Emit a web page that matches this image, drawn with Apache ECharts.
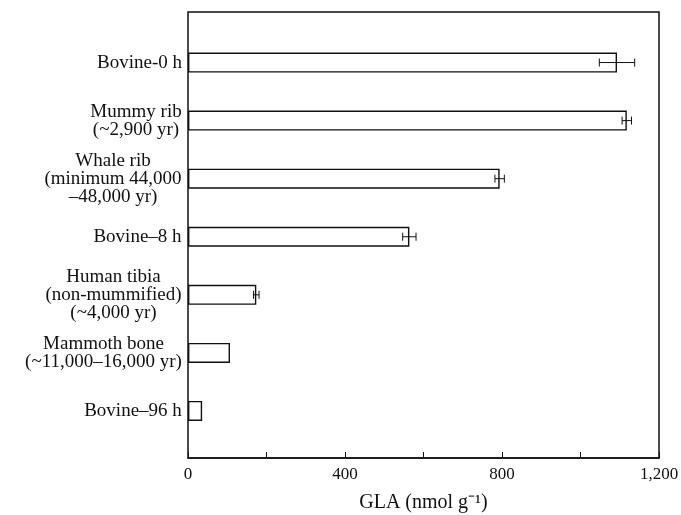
<!DOCTYPE html>
<html><head><meta charset="utf-8">
<script src="https://cdn.jsdelivr.net/npm/echarts@6/dist/echarts.min.js"></script>
<style>html,body{margin:0;padding:0;background:#fff}#c{width:681px;height:515px}</style>
</head><body><div id="c"></div>
<script>
var categories = ['Bovine-0 h', 'Mummy rib\n(~2,900 yr)', 'Whale rib\n(minimum 44,000\n\u201348,000 yr)', 'Bovine\u20138 h', 'Human tibia\n(non-mummified)\n(~4,000 yr)', 'Mammoth bone\n(~11,000\u201316,000 yr)', 'Bovine\u201396 h'];
var values = [1093, 1118, 794, 564, 174, 107, 36];
var errors = [45, 12, 12, 17, 7, 0, 0];
var xTicks = [0, 400, 800, 1200];
var xAxisName = 'GLA (nmol g\u207B\u00B9)';

var FONT = '"Liberation Serif", "Times New Roman", serif';
var FS = 19;
var ctx = document.createElement('canvas').getContext('2d');
ctx.font = FS + 'px ' + FONT;
var rich = {};
categories.forEach(function (c, i) {
  var w = 0;
  c.split('\n').forEach(function (l) { w = Math.max(w, ctx.measureText(l).width); });
  rich['c' + i] = { width: Math.ceil(w), align: 'center', fontSize: FS, fontFamily: FONT, lineHeight: 18, color: '#111' };
});

var errData = [];
values.forEach(function (v, i) { if (errors[i] > 0) errData.push([v - errors[i], v + errors[i], i]); });

var chart = echarts.init(document.getElementById('c'));
chart.setOption({
  animation: false,
  backgroundColor: '#fff',
  grid: [
    { left: 188, right: 22, top: 33.5, bottom: 75, outerBoundsMode: 'none', containLabel: false },
    { left: 188, right: 22, top: 12, bottom: 57, outerBoundsMode: 'none', containLabel: false,
      show: true, borderColor: '#111', borderWidth: 1.5, backgroundColor: 'transparent' }
  ],
  xAxis: [
    { gridIndex: 0, type: 'value', min: 0, max: 1200, show: false },
    { gridIndex: 1, type: 'value', min: 0, max: 1200, interval: 200,
      axisLine: { show: true, lineStyle: { color: '#111', width: 1.5 } },
      axisTick: { show: true, inside: true, length: 6, lineStyle: { color: '#111', width: 1 } },
      splitLine: { show: false },
      axisLabel: { color: '#111', fontSize: 17, fontFamily: FONT, margin: 8,
        formatter: function (v) { return xTicks.indexOf(v) >= 0 ? v.toLocaleString('en-US') : ''; } },
      name: xAxisName, nameLocation: 'middle', nameGap: 35,
      nameTextStyle: { color: '#111', fontSize: 20, fontFamily: FONT } }
  ],
  yAxis: [
    { gridIndex: 0, type: 'category', data: categories, inverse: true,
      axisLine: { show: false }, axisTick: { show: false }, splitLine: { show: false },
      axisLabel: { margin: 6, align: 'right', rich: rich,
        formatter: function (v, i) {
          return v.split('\n').map(function (l) { return '{c' + i + '|' + l + '}'; }).join('\n');
        } } },
    { gridIndex: 1, type: 'value', min: 0, max: 1, show: false }
  ],
  series: [
    { type: 'bar', xAxisIndex: 0, yAxisIndex: 0, data: values, barWidth: 20,
      itemStyle: { color: '#fff', borderColor: '#111', borderWidth: 1.4 } },
    { type: 'custom', xAxisIndex: 0, yAxisIndex: 0, data: errData, z: 5,
      renderItem: function (params, api) {
        var a = api.coord([api.value(0), api.value(2)]);
        var b = api.coord([api.value(1), api.value(2)]);
        var s = { stroke: '#111', lineWidth: 1 };
        return { type: 'group', children: [
          { type: 'line', shape: { x1: a[0], y1: a[1], x2: b[0], y2: b[1] }, style: s },
          { type: 'line', shape: { x1: a[0], y1: a[1] - 4, x2: a[0], y2: a[1] + 4 }, style: s },
          { type: 'line', shape: { x1: b[0], y1: b[1] - 4, x2: b[0], y2: b[1] + 4 }, style: s }
        ] };
      } }
  ]
});
</script></body></html>
